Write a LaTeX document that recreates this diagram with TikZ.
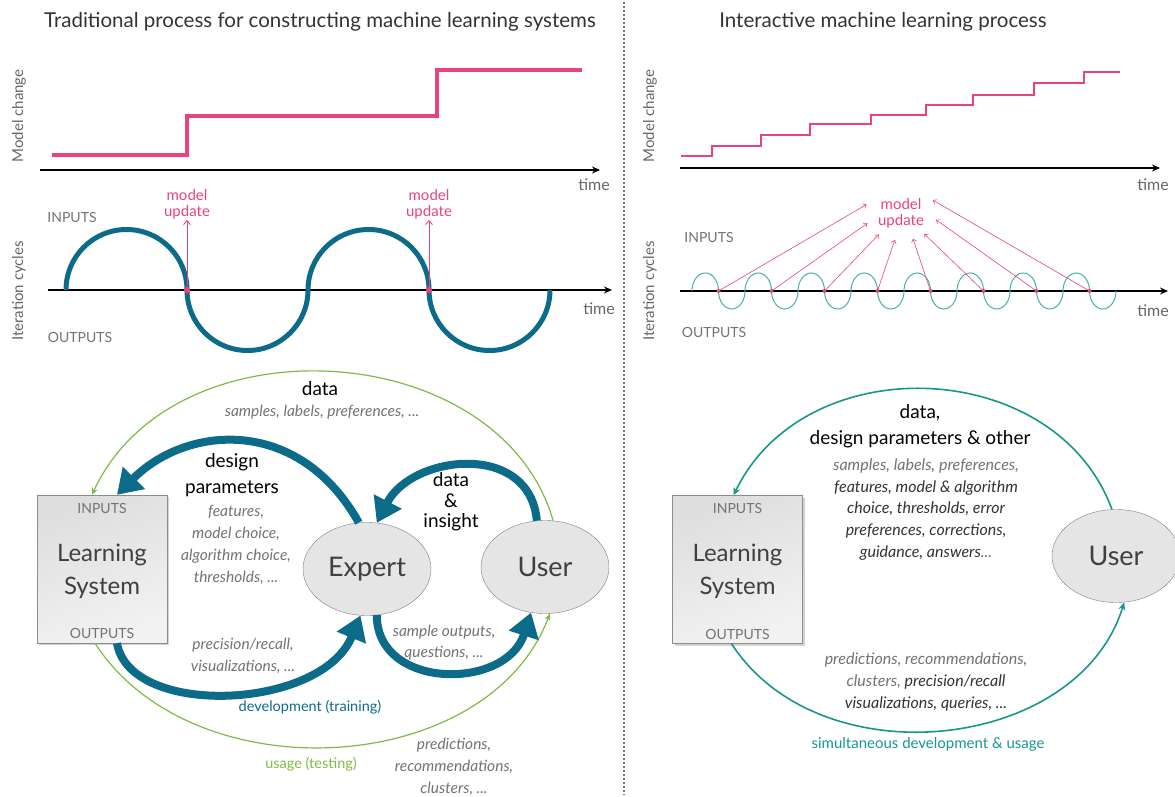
\documentclass[tikz,border=0pt]{standalone}
\usepackage{fontspec}
\setmainfont{Lato}
\usepackage{tikz}
\usetikzlibrary{arrows.meta,shapes.geometric,shadows,positioning}

\definecolor{mlpink}{HTML}{E8437A}
\definecolor{mlteal}{HTML}{0C6B88}
\definecolor{mlgreen}{HTML}{7DBB45}
\definecolor{mlcyan}{HTML}{17968F}
\definecolor{mlwave}{HTML}{45B0AA}

\tikzset{
  ttl/.style={font=\fontsize{20.5}{22}\selectfont, text=black!80},
  axislbl/.style={font=\fontsize{15}{17}\selectfont, text=black!60},
  timelbl/.style={font=\fontsize{16}{18}\selectfont, text=black!60},
  axis/.style={line width=1.4pt, -{Stealth[length=8pt,width=7pt]}},
  caps/.style={font=\fontsize{14}{16}\selectfont, text=black!55},
  mupd/.style={font=\fontsize{15}{16}\selectfont, text=mlpink, align=center, inner sep=1pt},
  pinkarrow/.style={mlpink, line width=0.9pt, -{Straight Barb[length=4pt,width=7pt]}},
  pinkthin/.style={mlpink, line width=0.6pt, -{Straight Barb[length=3pt,width=5pt]}},
  lsbox/.style={rectangle, draw=black!45, minimum width=130pt, minimum height=148pt,
    top color=black!13, bottom color=black!5, shading angle=20,
    drop shadow={shadow xshift=2pt,shadow yshift=-2pt,opacity=0.35}},
  lsname/.style={font=\fontsize{24}{33}\selectfont, text=black!75, align=center},
  actor/.style={ellipse, draw=black!50, fill=black!10, minimum width=128pt, minimum height=93pt,
    inner sep=0pt, font=\fontsize{27}{30}\selectfont, text=black!75},
  bigarrow/.style={mlteal, line width=8pt, -{Triangle[length=24pt,width=30pt]}},
  greenline/.style={mlgreen, line width=1.2pt, -{Stealth[length=7pt,width=6pt]}},
  cyanline/.style={mlcyan, line width=1.6pt, -{Stealth[length=8pt,width=7pt]}},
  head/.style={font=\fontsize{19}{26}\selectfont, text=black, align=center},
  note/.style={font=\fontsize{15.5}{22}\selectfont\itshape, text=black!55, align=center},
  dnote/.style={font=\fontsize{16}{21.75}\selectfont\itshape, text=black!80, align=center},
  flow/.style={font=\fontsize{14.5}{17}\selectfont},
}

\begin{document}
\begin{tikzpicture}[x=1pt,y=-1pt]
\useasboundingbox (0,0) rectangle (1175,797);

\node[ttl] (lttl) at (320,22) {Traditional process for constructing machine learning systems};
\node[ttl] (rttl) at (883,22) {Interactive machine learning process};
\draw[black!55, line width=1.6pt, dash pattern=on 2pt off 2pt] (624,2) -- (624,795);

% traditional: model change
\node[axislbl, rotate=90] (lych) at (19,116) {Model change};
\draw[axis] (40,170) -- (600,170);
\node[timelbl] (lt1) at (594,185) {time};
\draw[mlpink, line width=4pt] (52,155) -| (187,116) -| (437,70) -- (582,70);

% traditional: iteration cycles
\node[axislbl, rotate=90] (lyit) at (19,291) {Iteration cycles};
\node[caps] (lin) at (72,217) {INPUTS};
\node[caps] (lout) at (80,337) {OUTPUTS};
\draw[axis] (48,290) -- (612,290);
\node[timelbl] (lt2) at (599,309) {time};
\draw[mlteal, line width=5pt] (66,290)
  arc[start angle=180,end angle=360,radius=60.5] arc[start angle=180,end angle=0,radius=60.5]
  arc[start angle=180,end angle=360,radius=60.5] arc[start angle=180,end angle=0,radius=60.5];
\node[mupd, anchor=south] (lmu1) at (187,220) {model\\update};
\node[mupd, anchor=south] (lmu2) at (429,220) {model\\update};
\coordinate (ld1) at (187,290);
\coordinate (ld2) at (429,290);
\fill[mlpink] (ld1) circle[radius=3.2] (ld2) circle[radius=3.2];
\draw[pinkarrow] (ld1) -- (lmu1.south);
\draw[pinkarrow] (ld2) -- (lmu2.south);

% interactive: model change
\node[axislbl, rotate=90] (rych) at (650,116) {Model change};
\draw[axis] (680,168) -- (1160,168);
\node[timelbl] (rt1) at (1153,185) {time};
\draw[mlpink, line width=1.6pt] (681,156) -| (712,146) -| (761,135) -| (810,124) -| (871,115)
  -| (926,105) -| (973,95) -| (1034,83) -| (1084,72) -- (1120,72);

% interactive: iteration cycles
\node[axislbl, rotate=90] (ryit) at (650,291) {Iteration cycles};
\node[caps] (rin) at (709,237) {INPUTS};
\node[caps] (rout) at (714,332) {OUTPUTS};
\draw[axis] (680,291) -- (1168,291);
\node[timelbl] (rt2) at (1153,311) {time};
\draw[mlwave, line width=1pt] (692,291) foreach \i in {1,...,8} {
  arc[start angle=180,end angle=360,x radius=13.25,y radius=18]
  arc[start angle=180,end angle=0,x radius=13.25,y radius=18] };
\node[mupd, ellipse, minimum width=72pt, minimum height=54pt, inner sep=0pt] (mu) at (901,213) {model\\update};
\foreach \i/\a in {0/166,1/197,2/224,3/257,4/295,5/318,6/349,7/22} {
  \coordinate (rd\i) at (718.5+53*\i,291);
  \fill[mlpink] (rd\i) circle[radius=2];
  \draw[pinkthin] (rd\i) -- (mu.\a);
}

% traditional: loop
\node[lsbox] (lbox) at (102,569) {};
\node[caps, below=5pt of lbox.north] (lbin) {INPUTS};
\node[caps, above=1pt of lbox.south] (lbout) {OUTPUTS};
\node[lsname] (lname) at (102,571) {Learning\\System};
\node[actor] (expert) at (367,569) {Expert};
\node[actor] (user) at (545,567) {User};

\draw[greenline] (user.80) .. controls +(-53,-184) and +(82,-178) .. ([xshift=-10pt]lbox.north);
\draw[greenline] ([xshift=-7pt]lbox.south) .. controls +(98,152) and +(-62,164) .. (user.276);
\draw[bigarrow] (expert.100) .. controls +(-60,-107) and +(70,-70) .. ([xshift=15pt]lbox.north);
\draw[bigarrow] (user.100) .. controls +(-7,-80) and +(35,-68) .. (expert.78);
\draw[bigarrow] ([xshift=15pt]lbox.south) .. controls +(13,75) and +(-39,95) .. (expert.262);
\draw[bigarrow] (expert.282) .. controls +(0,75) and +(-25,78) .. (user.253);

\node[head] (ldata) at (320,389) {data};
\node[note] (ldatatxt) at (322,412) {samples, labels, preferences, ...};
\node[head] (ldesign) at (232,475) {design\\parameters};
\node[note] (ldesigntxt) at (236,545) {features,\\model choice,\\algorithm choice,\\thresholds, ...};
\node[head, font=\fontsize{19}{20.5}\selectfont] (linsight) at (451,502) {data\\\&\\insight};
\node[note] (lprec) at (243,656) {precision/recall,\\visualizations, ...};
\node[note, font=\fontsize{15.5}{21}\selectfont\itshape] (lsample) at (444,643) {sample outputs,\\questions, ...};
\node[flow, text=mlteal] (ldev) at (310,707) {development (training)};
\node[flow, text=mlgreen] (lusage) at (311,764) {usage (testing)};
\node[note] (lpred) at (454,767) {predictions,\\recommendations,\\clusters, ...};

% interactive: loop
\node[lsbox] (rbox) at (737.5,569.5) {};
\node[caps, below=5pt of rbox.north] (rbin) {INPUTS};
\node[caps, above=1pt of rbox.south] (rbout) {OUTPUTS};
\node[lsname] (rname) at (737.5,571) {Learning\\System};
\node[actor] (ruser) at (1116,556) {User};

\draw[cyanline] (ruser.95) .. controls +(-56,-153) and +(72,-149) .. ([xshift=-4pt]rbox.north);
\draw[cyanline] ([xshift=-6pt]rbox.south) .. controls +(88,136) and +(-46,150) .. (ruser.280);

\node[head] (rdata) at (920,426) {data,\\design parameters \& other};
\node[dnote] (rdatatxt) at (926,509.5) {\textcolor{black!55}{samples, labels, preferences,}\\features, model \& algorithm\\choice, thresholds, error\\preferences, corrections,\\guidance, answers\textcolor{black!55}{...}};
\node[dnote] (rpred) at (926,682) {\textcolor{black!55}{predictions, recommendations,}\\\textcolor{black!55}{clusters,} precision/recall\\visualizations, queries, ...};
\node[flow, font=\fontsize{15}{17}\selectfont, text=mlcyan] (rflow) at (928,744) {simultaneous development \& usage};
\end{tikzpicture}
\end{document}
